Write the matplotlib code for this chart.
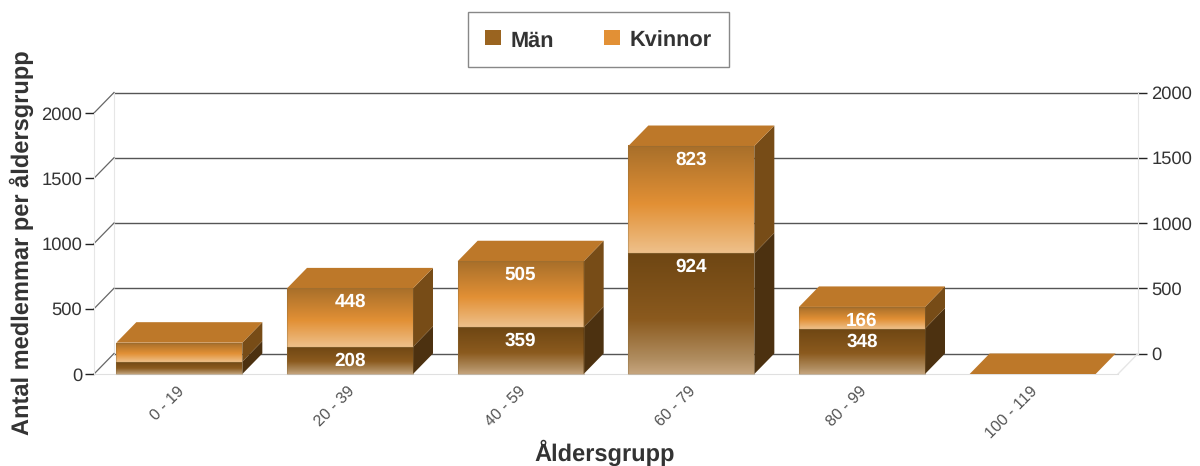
import numpy as np
import matplotlib
matplotlib.use('Agg')
import matplotlib.pyplot as plt
from matplotlib.colors import LinearSegmentedColormap
from matplotlib.patches import Polygon, Patch, Rectangle
from matplotlib.transforms import ScaledTranslation

plt.rcParams['font.family'] = ['Liberation Sans', 'DejaVu Sans']
plt.rcParams['text.hinting'] = 'no_hinting'

groups = ['0 - 19', '20 - 39', '40 - 59', '60 - 79', '80 - 99', '100 - 119']
men = [95, 208, 359, 924, 348, 0]
women = [145, 448, 505, 823, 166, 0]
y_ticks = [0, 500, 1000, 1500, 2000]

W, H = 1200, 466
# front plane of the box in pixels
X0, X1, Y0, Y2000 = 94, 1118, 374, 113
DX_PX, DY_PX = 20, 20.5
DX = DX_PX / ((X1 - X0) / len(groups))
DY = DY_PX / ((Y0 - Y2000) / 2000)
BAR_W = 126 / ((X1 - X0) / len(groups))

men_grad = LinearSegmentedColormap.from_list('m', [(0, '#c6a57e'), (0.12, '#b08d60'), (0.45, '#8b5a1e'), (1, '#6e4613')])
women_grad = LinearSegmentedColormap.from_list('w', [(0, '#eec08a'), (0.45, '#e29035'), (1, '#a86f2a')])


def rect(x0, x1, y0, y1):
    return [x0 / W, 1 - y0 / H, (x1 - x0) / W, (y0 - y1) / H]


fig = plt.figure(figsize=(12, 4.66), dpi=100)

# back wall, shifted up and right
back = fig.add_axes(rect(X0 + DX_PX, X1 + DX_PX, Y0 - DY_PX, Y2000 - DY_PX))
back.set_xlim(0, len(groups))
back.set_ylim(0, 2000)
back.set_xticks([])
back.set_yticks(y_ticks)
back.yaxis.tick_right()
back.tick_params(axis='y', length=6.5, width=1, color='#222222', labelsize=13.2, labelcolor='#333333', pad=3)
back.grid(axis='y', color='#555555', lw=1, clip_on=False)
for line in back.get_ygridlines():
    line.set_clip_on(False)
for k in ['top', 'bottom']:
    back.spines[k].set_visible(False)
for k in ['left', 'right']:
    back.spines[k].set_color('#e6e6e6')

# front plane with the bars
ax = fig.add_axes(rect(X0, X1, Y0, Y2000))
ax.patch.set_alpha(0)
for k in ['top', 'right']:
    ax.spines[k].set_visible(False)
ax.spines['left'].set_color('#e6e6e6')
ax.spines['bottom'].set_color('#e0e0e0')
ax.set_yticks(y_ticks)
ax.tick_params(axis='y', length=6.5, width=1, color='#222222', labelsize=13.2, labelcolor='#333333', pad=2)
ax.set_xticks(np.arange(len(groups)) + 0.5)
ax.set_xticklabels(groups, rotation=45, ha='right', va='top', rotation_mode='anchor', fontsize=11.5, color='#555555')
ax.tick_params(axis='x', length=0, pad=7)
shift = ScaledTranslation(-3 / 100, 0, fig.dpi_scale_trans)
for lab in ax.get_xticklabels():
    lab.set_transform(lab.get_transform() + shift)

# diagonals joining the two planes
n = len(groups)
for v in y_ticks:
    ax.plot([0, DX], [v, v + DY], color='#666666', lw=0.9, clip_on=False, zorder=1)
ax.plot([n, n + DX], [0, DY], color='#e6e6e6', lw=1, clip_on=False, zorder=1)


def segment(x, bottom, value, cmap, side, z):
    x0, x1 = x - BAR_W / 2, x + BAR_W / 2
    top = bottom + value
    if value > 0:
        grad = np.linspace(1, 0, 128).reshape(-1, 1)
        ax.imshow(grad, cmap=cmap, vmin=0, vmax=1, aspect='auto', extent=(x0, x1, bottom, top),
                  clip_on=False, zorder=z, interpolation='bilinear')
        ax.add_patch(Polygon([(x1, bottom), (x1 + DX, bottom + DY), (x1 + DX, top + DY), (x1, top)],
                             closed=True, fc=side, ec='none', clip_on=False, zorder=z))
        ax.add_patch(Rectangle((x0, bottom), x1 - x0, value, fc='none', ec='#8a6a3a', lw=0.8, alpha=0.35,
                               clip_on=False, zorder=z + 0.1))
    return x0, x1, top


for i in range(n):
    x = i + 0.5
    segment(x, 0, men[i], men_grad, '#4c3110', 3)
    x0, x1, top = segment(x, men[i], women[i], women_grad, '#774c17', 3)
    ax.add_patch(Polygon([(x0, top), (x0 + DX, top + DY), (x1 + DX, top + DY), (x1, top)],
                         closed=True, fc='#bd7829', ec='none', clip_on=False, zorder=3))
    for val, base in ((men[i], 0), (women[i], men[i])):
        if val >= 150:
            ax.annotate(str(val), (x, base + val), xytext=(0, -9.8), textcoords='offset points',
                        ha='center', va='center', color='white', fontsize=13.6, fontweight='bold', zorder=5)

ax.set_xlim(0, n)
ax.set_ylim(0, 2000)

fig.text(22 / W, 1 - 243 / H, 'Antal medlemmar per åldersgrupp', rotation=90, ha='center', va='center',
         fontsize=17, fontweight='bold', color='#333333')
fig.text(605 / W, 1 - 453 / H, 'Åldersgrupp', ha='center', va='center',
         fontsize=17, fontweight='bold', color='#333333')

handles = [Patch(fc='#9a6420', ec='none', label='Män'), Patch(fc='#e29035', ec='none', label='Kvinnor')]
leg = fig.legend(handles=handles, loc='center', bbox_to_anchor=(598.5 / W, 1 - 39.5 / H), ncol=2, fontsize=15.7,
                 frameon=True, fancybox=False, edgecolor='#888888', framealpha=1,
                 handlelength=0.74, handleheight=0.74, handletextpad=0.42, columnspacing=2.3,
                 borderpad=0.8, borderaxespad=0)
for t in leg.get_texts():
    t.set_fontweight('bold')
    t.set_color('#333333')
    t.set_y(-2)

fig.savefig('out.png', dpi=100)
